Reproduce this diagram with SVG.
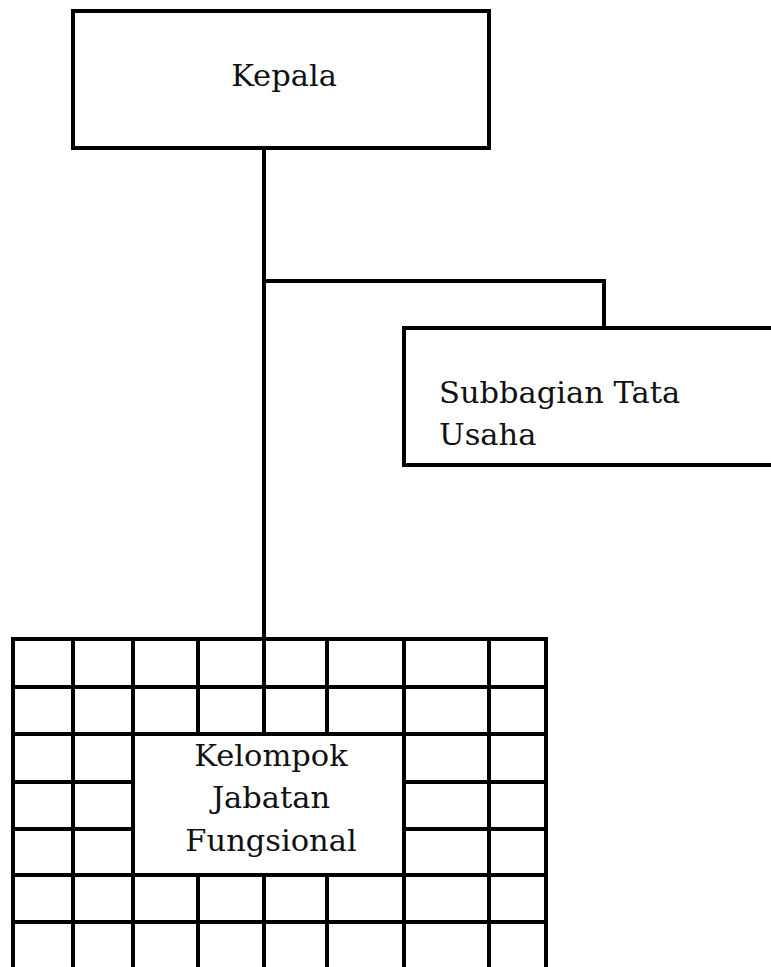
<svg xmlns="http://www.w3.org/2000/svg" width="771" height="967" viewBox="0 0 771 967">
<style>
.box{fill:#fff;stroke:#000;stroke-width:4}
.ln{fill:none;stroke:#000;stroke-width:4}
.t{font-family:"DejaVu Serif","Liberation Serif",serif;font-size:30.5px;fill:#111}
</style>
<rect width="771" height="967" fill="#fff"/>
<g id="connectors">
<path class="ln" d="M264 148 V639"/>
<path class="ln" d="M264 281 H604 V328"/>
</g>
<g id="kepala">
<rect class="box" x="73" y="11" width="416" height="137"/>
<text class="t" x="284" y="86" text-anchor="middle">Kepala</text>
</g>
<g id="subbagian">
<rect class="box" x="404" y="328" width="380" height="137"/>
<text class="t" x="439" y="403">Subbagian Tata</text>
<text class="t" x="439" y="445">Usaha</text>
</g>
<g id="kelompok">
<path class="ln" d="M13 639 H546 M13 687 H546 M13 734 H546 M13 875 H546 M13 922 H546 M13 782 H133 M404 782 H546 M13 829 H133 M404 829 H546"/>
<path class="ln" d="M13 637 V967 M73 639 V967 M133 639 V967 M404 639 V967 M489 639 V967 M546 637 V967 M198 639 V734 M198 875 V967 M264 639 V734 M264 875 V967 M327 639 V734 M327 875 V967"/>
<text class="t" x="271" y="766" text-anchor="middle">Kelompok</text>
<text class="t" x="271" y="808" text-anchor="middle">Jabatan</text>
<text class="t" x="271" y="851" text-anchor="middle">Fungsional</text>
</g>
</svg>
